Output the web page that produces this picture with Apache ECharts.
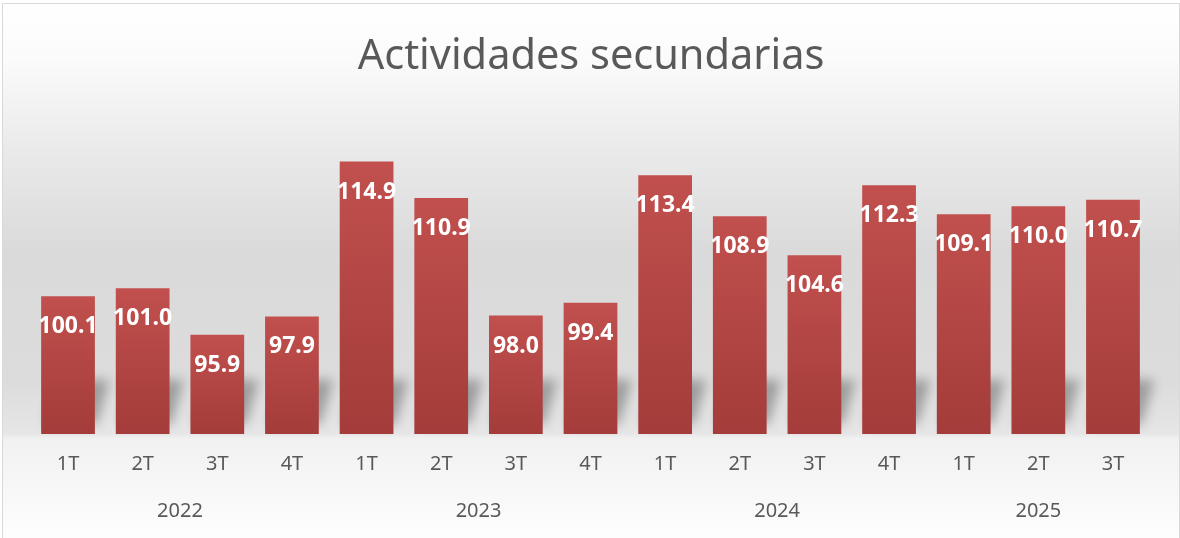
<!DOCTYPE html>
<html>
<head>
<meta charset="utf-8">
<script src="https://cdn.jsdelivr.net/npm/echarts@6/dist/echarts.min.js"></script>
<style>
    html, body { margin: 0; padding: 0; background: #fff; overflow: hidden; }
    #chart {
        position: absolute;
        left: 2px;
        top: 3px;
        width: 1176px;
        height: 540px;
        border: 1px solid #d9d9d9;
    }
</style>
</head>
<body>
<div id="chart"></div>
<script>
// 数据
var quarters = ['1T', '2T', '3T', '4T', '1T', '2T', '3T', '4T', '1T', '2T', '3T', '4T', '1T', '2T', '3T'];
var years = ['2022', '2023', '2024', '2025'];
var quartersPerYear = [4, 4, 4, 3];
var values = [100.1, 101.0, 95.9, 97.9, 114.9, 110.9, 98.0, 99.4, 113.4, 108.9, 104.6, 112.3, 109.1, 110.0, 110.7];

(function () {
    var myChart = echarts.init(document.getElementById('chart'));

    // 年份标签放在每组的中间
    var yearCenters = [];
    var start = 0;
    quartersPerYear.forEach(function (n) {
        yearCenters.push(start + n / 2);
        start += n;
    });

    var labelFont = {
        color: '#595959',
        fontSize: 20,
        fontFamily: 'Noto Sans'
    };

    // 阴影形状画在画布外面，只把模糊的影子偏移回来
    var OFF = 3000;

    var option = {
        backgroundColor: new echarts.graphic.LinearGradient(0, 0, 0, 1, [
            { offset: 0, color: '#ffffff' },
            { offset: 0.1, color: '#fbfbfb' },
            { offset: 0.28, color: '#e9e9e9' },
            { offset: 0.46, color: '#dadada' },
            { offset: 0.7, color: '#dcdcdc' },
            { offset: 0.795, color: '#e6e6e6' },
            { offset: 0.805, color: '#f1f1f1' },
            { offset: 1, color: '#fefefe' }
        ]),
        title: {
            text: 'Actividades secundarias',
            left: 'center',
            top: 27,
            textStyle: {
                color: '#595959',
                fontSize: 41.5,
                fontWeight: 'normal',
                fontFamily: 'Noto Sans'
            }
        },
        grid: {
            left: 27.7,
            right: 28.7,
            top: 111,
            bottom: 110
        },
        xAxis: [
            {
                type: 'category',
                data: quarters,
                axisLine: { show: false },
                axisTick: { show: false },
                axisLabel: Object.assign({ margin: 20 }, labelFont)
            },
            {
                type: 'value',
                position: 'bottom',
                min: 0,
                max: quarters.length,
                axisLine: { show: false },
                axisTick: { show: false },
                splitLine: { show: false },
                axisLabel: Object.assign({
                    margin: 67,
                    customValues: yearCenters,
                    formatter: function (v) {
                        return years[yearCenters.indexOf(v)];
                    }
                }, labelFont)
            }
        ],
        yAxis: {
            type: 'value',
            min: 85,
            max: 120,
            show: false,
            splitLine: { show: false }
        },
        series: [
            {
                // 柱子底部的阴影
                name: 'sombra',
                type: 'custom',
                xAxisIndex: 0,
                z: 1,
                silent: true,
                clip: false,
                data: values.map(function (v, i) { return [i, v]; }),
                renderItem: function (params, api) {
                    var base = api.coord([api.value(0), 85]);
                    var w = api.size([1, 0])[0] * 0.72;
                    var x0 = base[0] - w / 2 + 4;
                    var x1 = base[0] + w / 2 + 2;
                    var yb = base[1] - 10;
                    var h = 44;
                    var dx = 12;
                    return {
                        type: 'polygon',
                        shape: {
                            points: [[x0 + OFF, yb], [x1 + OFF, yb], [x1 + dx + OFF, yb - h], [x0 + dx + OFF, yb - h]]
                        },
                        style: {
                            fill: '#000',
                            shadowBlur: 12,
                            shadowOffsetX: -OFF,
                            shadowColor: 'rgba(0,0,0,0.3)'
                        }
                    };
                }
            },
            {
                name: 'Actividades secundarias',
                type: 'bar',
                xAxisIndex: 0,
                z: 2,
                barWidth: '72%',
                data: values,
                itemStyle: {
                    color: new echarts.graphic.LinearGradient(0, 0, 0, 1, [
                        { offset: 0, color: '#c1504e' },
                        { offset: 1, color: '#a33c3a' }
                    ])
                },
                label: {
                    show: true,
                    position: 'insideTop',
                    distance: 19,
                    color: '#ffffff',
                    fontSize: 23,
                    fontWeight: 'bold',
                    fontFamily: 'Noto Sans',
                    formatter: function (p) {
                        return p.value.toFixed(1);
                    }
                }
            }
        ]
    };

    myChart.setOption(option);

    window.addEventListener('resize', function () {
        myChart.resize();
    });
})();
</script>
</body>
</html>
